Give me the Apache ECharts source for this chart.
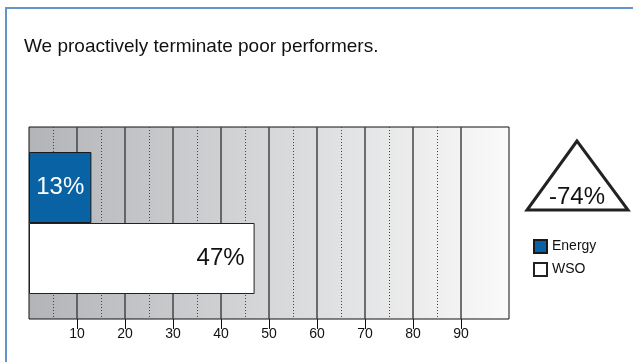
<!DOCTYPE html>
<html>
<head>
<meta charset="utf-8">
<script src="https://cdn.jsdelivr.net/npm/echarts@6/dist/echarts.min.js"></script>
<style>
  html, body { margin: 0; padding: 0; background: #ffffff; }
  #chart { width: 633px; height: 362px; }
</style>
</head>
<body>
<div id="chart"></div>
<script>
// Share of respondents agreeing with the statement
const titleText = 'We proactively terminate poor performers.';
const seriesNames = ['Energy', 'WSO'];
const energyValues = [13];
const wsoValues = [47];
const gapLabel = '-74%';

// Axis ticks
const majorTicks = [10, 20, 30, 40, 50, 60, 70, 80, 90];
const minorTicks = [5, 15, 25, 35, 45, 55, 65, 75, 85];

const FONT = "'Liberation Sans', Arial, sans-serif";

const chart = echarts.init(document.getElementById('chart'), null, { renderer: 'canvas' });

chart.setOption({
  backgroundColor: '#ffffff',
  animation: false,
  title: {
    text: titleText,
    left: 19,
    top: 32,
    textStyle: { fontFamily: FONT, fontSize: 19, fontWeight: 'normal', color: '#111' }
  },
  legend: {
    orient: 'vertical',
    left: 528,
    top: 234,
    itemWidth: 13,
    itemHeight: 13,
    itemGap: 8,
    icon: 'rect',
    data: seriesNames,
    textStyle: { fontFamily: FONT, fontSize: 14, color: '#111' }
  },
  grid: {
    left: 29,
    top: 127,
    width: 480,
    height: 192,
    show: true,
    borderColor: '#111',
    borderWidth: 1,
    backgroundColor: {
      type: 'linear', x: 0, y: 0, x2: 1, y2: 0,
      colorStops: [
        { offset: 0, color: '#b2b4b7' },
        { offset: 0.5, color: '#d6d7d9' },
        { offset: 1, color: '#fafafa' }
      ]
    }
  },
  xAxis: {
    type: 'value',
    min: 0,
    max: 100,
    interval: 10,
    axisLine: { show: false },
    axisTick: {
      show: true,
      length: 10,
      customValues: majorTicks,
      lineStyle: { color: '#111', width: 1 }
    },
    axisLabel: {
      customValues: majorTicks,
      margin: 8,
      fontFamily: FONT,
      fontSize: 14,
      color: '#111'
    },
    splitLine: { show: true, lineStyle: { color: '#444', width: 1.5 } }
  },
  yAxis: {
    type: 'category',
    data: [''],
    inverse: true,
    show: false
  },
  series: [
    {
      name: seriesNames[0],
      type: 'bar',
      data: energyValues,
      barWidth: 71,
      barGap: '0%',
      z: 3,
      itemStyle: { color: '#0862a4', borderColor: '#1a1a1a', borderWidth: 1 },
      label: {
        show: true,
        position: 'inside',
        formatter: p => p.value + '%',
        fontFamily: FONT,
        fontSize: 24,
        color: '#ffffff'
      }
    },
    {
      name: seriesNames[1],
      type: 'bar',
      data: wsoValues,
      barWidth: 71,
      barGap: '0%',
      z: 3,
      itemStyle: { color: '#ffffff', borderColor: '#222', borderWidth: 1 },
      label: {
        show: true,
        position: 'insideRight',
        distance: 10,
        formatter: p => p.value + '%',
        fontFamily: FONT,
        fontSize: 24,
        color: '#111'
      }
    },
    {
      // dotted half-step gridlines
      type: 'line',
      data: [],
      silent: true,
      markLine: {
        z: 1,
        silent: true,
        symbol: 'none',
        label: { show: false },
        lineStyle: { type: [1, 2], color: '#444', width: 1 },
        data: minorTicks.map(v => ({ xAxis: v }))
      }
    }
  ],
  graphic: [
    {
      type: 'rect',
      shape: { x: 6, y: 8, width: 700, height: 400 },
      style: { fill: 'none', stroke: '#6395cc', lineWidth: 2 },
      silent: true
    },
    {
      type: 'polygon',
      shape: { points: [[577, 141], [527, 210], [628, 210]] },
      style: { fill: '#ffffff', stroke: '#222', lineWidth: 3, lineJoin: 'miter' },
      silent: true
    },
    {
      type: 'text',
      x: 577,
      y: 197,
      style: {
        text: gapLabel,
        fontFamily: FONT,
        fontSize: 24,
        fill: '#111',
        align: 'center',
        verticalAlign: 'middle'
      },
      silent: true
    }
  ]
});
</script>
</body>
</html>
